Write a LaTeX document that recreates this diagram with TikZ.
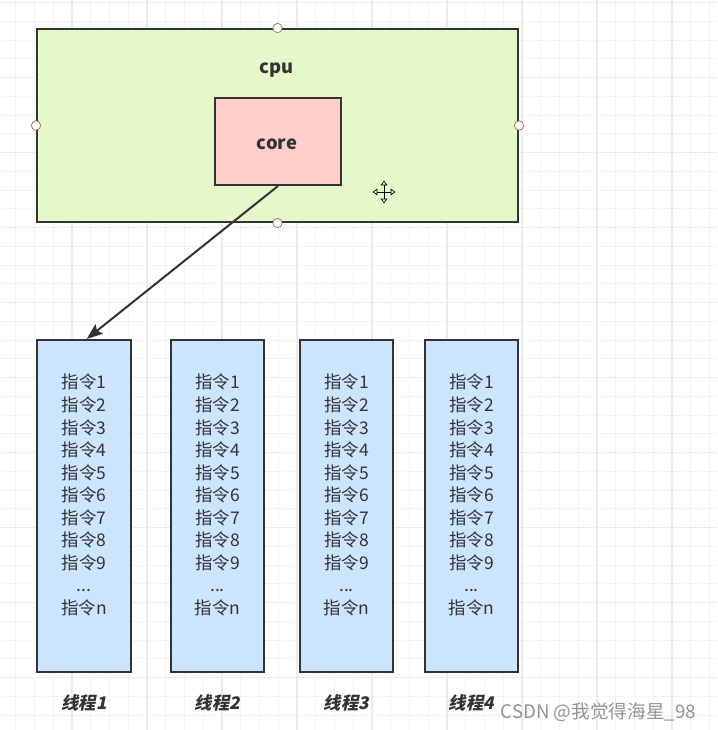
\documentclass[tikz,border=0pt]{standalone}
\usepackage{fontspec}
\setmainfont{Noto Sans CJK SC}
\newfontfamily\threadfont[FakeSlant=0.2]{Noto Sans CJK SC}
\usetikzlibrary{arrows.meta,positioning}
\definecolor{edgegrey}{HTML}{333333}
\definecolor{cpugreen}{HTML}{E4F8C9}
\definecolor{corepink}{HTML}{FFCEC9}
\definecolor{threadblue}{HTML}{CCE5FF}
\definecolor{minorline}{HTML}{F3F3F3}
\definecolor{majorline}{HTML}{EBEBEB}
\definecolor{handlered}{HTML}{B5735F}
\tikzset{
    box/.style={draw=edgegrey, line width=1.5pt, inner sep=0pt},
    cpubox/.style={box, fill=cpugreen, minimum width=360.75pt, minimum height=144.75pt},
    corebox/.style={box, fill=corepink, minimum width=94.5pt, minimum height=65.6pt},
    threadbox/.style={box, fill=threadblue, minimum width=70pt, minimum height=249pt},
    boldtext/.style={font=\fontsize{13.8}{16}\selectfont\bfseries, text=edgegrey},
    instr/.style={align=center, font=\fontsize{13.1}{16.9}\selectfont, text=edgegrey},
    threadlabel/.style={font=\threadfont\bfseries\fontsize{13}{15}\selectfont, text=edgegrey},
    handle/.style={circle, draw=handlered, fill=white, line width=0.6pt, minimum size=7pt, inner sep=0pt},
    arr/.style={-{Stealth[length=12pt,width=9pt,inset=2pt]}, draw=edgegrey, line width=1.5pt}
}
\begin{document}
\begin{tikzpicture}[x=0.75pt, y=-0.75pt]
    \useasboundingbox (0,0) rectangle (717,730);
    % background grid
    \foreach \gx in {15.75,34.5,...,717} \draw[minorline, line width=0.6pt] (\gx,0) -- (\gx,730);
    \foreach \gy in {2.5,21.25,...,730} \draw[minorline, line width=0.6pt] (0,\gy) -- (717,\gy);
    \foreach \gx in {72,147,...,717} \draw[majorline, line width=0.8pt] (\gx,0) -- (\gx,730);
    \foreach \gy in {2.5,77.5,...,730} \draw[majorline, line width=0.8pt] (0,\gy) -- (717,\gy);
    % cpu and its core
    \node[cpubox] (cpu) at (277.5,125.5) {};
    \node[boldtext] (cpulabel) at (277,70) {cpu};
    \node[corebox] (core) at (278,141.25) {};
    \node[boldtext] (corelabel) at (277,144) {core};
    % selection handles
    \foreach \hpos in {north,south,east,west}
        \node[handle] (handle-\hpos) at (cpu.\hpos) {};
    % move cursor
    \coordinate (cursor) at (384,192);
    \draw[line width=0.5pt, {Triangle[open,length=3.5pt,width=5pt]}-{Triangle[open,length=3.5pt,width=5pt]}]
        ([xshift=-8.5pt]cursor) -- ([xshift=8.5pt]cursor);
    \draw[line width=0.5pt, {Triangle[open,length=3.5pt,width=5pt]}-{Triangle[open,length=3.5pt,width=5pt]}]
        ([yshift=-8.5pt]cursor) -- ([yshift=8.5pt]cursor);
    % threads with their instructions
    \foreach \i/\tx in {1/84,2/217.5,3/346.5,4/471.5} {
        \node[threadbox] (thread\i) at (\tx,506) {};
        \node[instr] (list\i) at (\tx,495) {指令1\\指令2\\指令3\\指令4\\指令5\\指令6\\指令7\\指令8\\指令9\\...\\指令n};
        \node[threadlabel] (name\i) at (\tx,703) {线程\i};
    }
    \draw[arr] (core.south) -- ([xshift=2pt]thread1.north);
    % watermark
    \node[anchor=west, text=gray!85, font=\fontsize{14}{16}\selectfont] (mark) at (496,712) {CSDN @我觉得海星\_98};
\end{tikzpicture}
\end{document}
